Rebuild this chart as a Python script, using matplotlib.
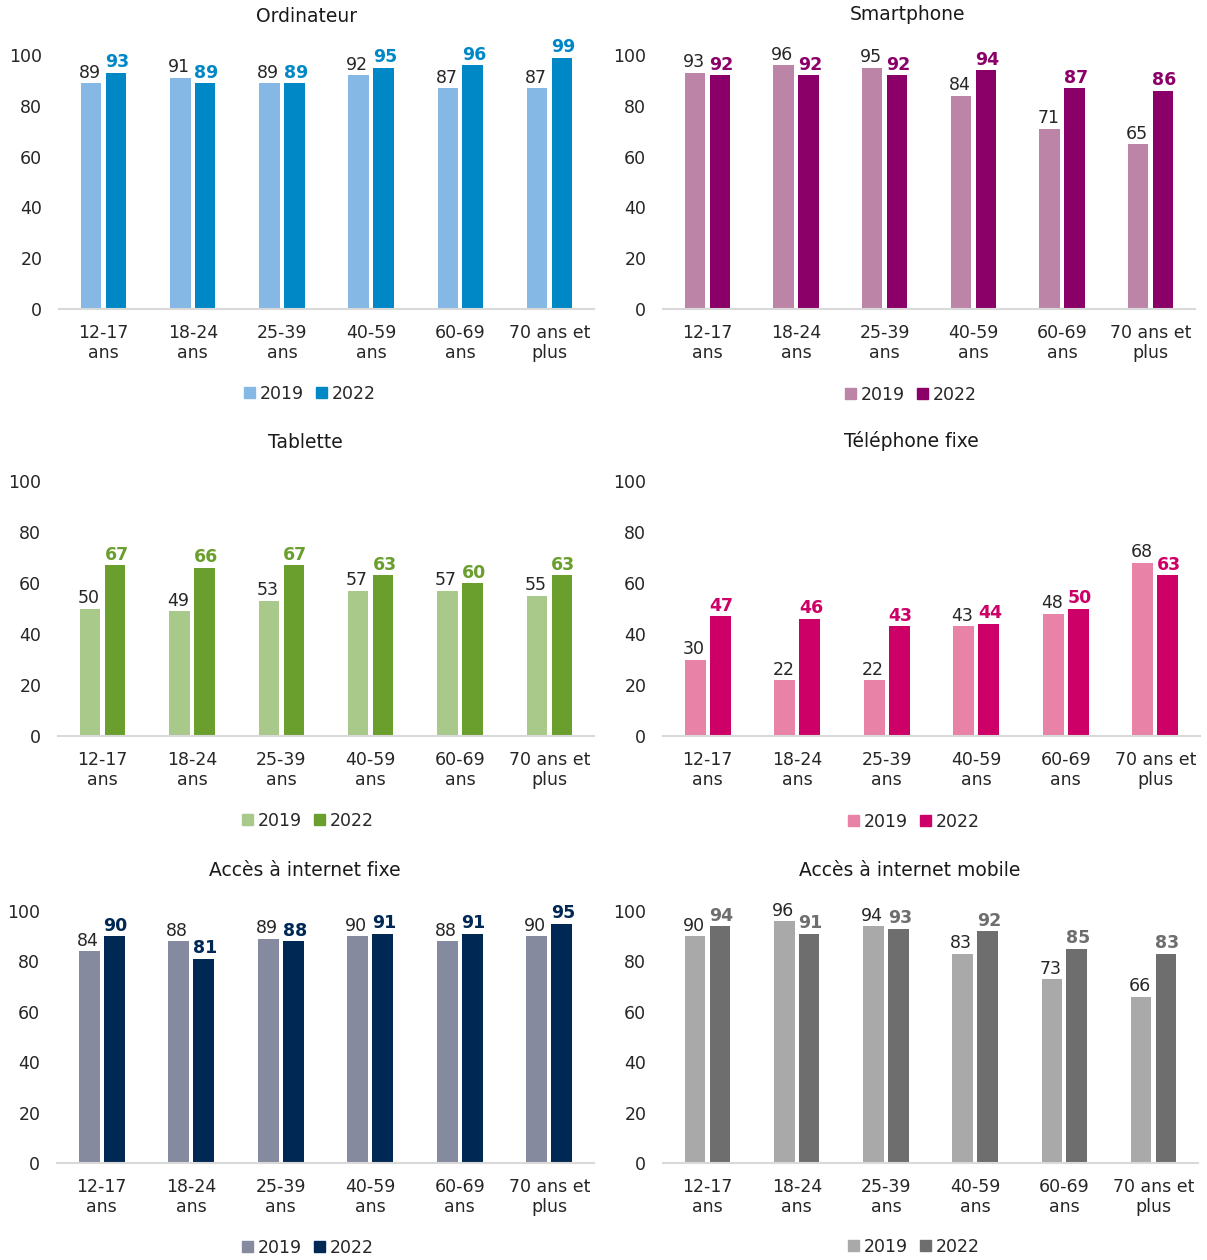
import matplotlib
matplotlib.use("Agg")
from matplotlib import pyplot as plt
from matplotlib.patches import Patch
import numpy as np

categories = ["12-17\nans", "18-24\nans", "25-39\nans", "40-59\nans", "60-69\nans", "70 ans et\nplus"]
years = ["2019", "2022"]

ordinateur_2019 = [89, 91, 89, 92, 87, 87]
ordinateur_2022 = [93, 89, 89, 95, 96, 99]
smartphone_2019 = [93, 96, 95, 84, 71, 65]
smartphone_2022 = [92, 92, 92, 94, 87, 86]
tablette_2019 = [50, 49, 53, 57, 57, 55]
tablette_2022 = [67, 66, 67, 63, 60, 63]
telfixe_2019 = [30, 22, 22, 43, 48, 68]
telfixe_2022 = [47, 46, 43, 44, 50, 63]
internet_fixe_2019 = [84, 88, 89, 90, 88, 90]
internet_fixe_2022 = [90, 81, 88, 91, 91, 95]
internet_mobile_2019 = [90, 96, 94, 83, 73, 66]
internet_mobile_2022 = [94, 91, 93, 92, 85, 83]

W, H = 1207, 1260
fig = plt.figure(figsize=(W / 100, H / 100), dpi=100)
plt.rcParams['font.family'] = ['DejaVu Sans']
FS = 12.5
TXT = "#262626"

# (title, v2019, v2022, col2019, col2022, axes px box x0,x1,ybase,ytop, title pos, legend pos)
panels = [
    ("Ordinateur", ordinateur_2019, ordinateur_2022, "#85B8E5", "#0088C6",
     (59, 594, 309, 55), (307, 16), (310, 394)),
    ("Smartphone", smartphone_2019, smartphone_2022, "#BC85A8", "#8B0068",
     (663, 1195, 309, 55), (908, 15), (911, 395)),
    ("Tablette", tablette_2019, tablette_2022, "#A9C98A", "#6A9E2D",
     (58, 594, 736, 481), (305, 442), (308, 821)),
    ("Téléphone fixe", telfixe_2019, telfixe_2022, "#E882A6", "#CC0066",
     (663, 1200, 736, 481), (911, 441), (914, 822)),
    ("Accès à internet fixe", internet_fixe_2019, internet_fixe_2022, "#868A9E", "#002855",
     (57, 594, 1163, 911), (305, 871), (308, 1248)),
    ("Accès à internet mobile", internet_mobile_2019, internet_mobile_2022, "#A9A9A9", "#6E6E6E",
     (663, 1198, 1163, 911), (910, 871), (914, 1247)),
]

x = np.arange(len(categories))
bw = 0.23
off = 0.14

for title, v1, v2, c1, c2, box, tpos, lpos in panels:
    x0, x1, yb, yt = box
    ax = fig.add_axes([x0 / W, 1 - yb / H, (x1 - x0) / W, (yb - yt) / H])
    ax.bar(x - off, v1, bw, color=c1)
    ax.bar(x + off, v2, bw, color=c2)
    for xi, a, b in zip(x, v1, v2):
        ax.annotate(str(a), (xi - off, a), xytext=(-1, 1), textcoords="offset points",
                    ha="center", va="bottom", fontsize=FS, color=TXT, annotation_clip=False)
        ax.annotate(str(b), (xi + off, b), xytext=(1, 1), textcoords="offset points",
                    ha="center", va="bottom", fontsize=FS, color=c2, fontweight="bold",
                    annotation_clip=False)
    ax.set_xlim(-0.5, len(categories) - 0.5)
    ax.set_ylim(0, 100)
    ax.set_yticks(range(0, 101, 20))
    ax.set_xticks(x)
    ax.set_xticklabels(categories, fontsize=FS, color=TXT, linespacing=1.15)
    ax.tick_params(axis="both", length=0, labelsize=FS, colors=TXT)
    ax.tick_params(axis="x", pad=11)
    ax.tick_params(axis="y", pad=12)
    for s in ["top", "right", "left"]:
        ax.spines[s].set_visible(False)
    ax.spines["bottom"].set_color("#D9D9D9")
    ax.spines["bottom"].set_linewidth(1.5)
    fig.text(tpos[0] / W, 1 - tpos[1] / H, title, ha="center", va="center",
             fontsize=13.5, color="#1a1a1a")
    handles = [Patch(color=c1, label=years[0]), Patch(color=c2, label=years[1])]
    ax.legend(handles=handles, loc="center", bbox_to_anchor=(lpos[0] / W, 1 - lpos[1] / H),
              bbox_transform=fig.transFigure, ncol=2, frameon=False, fontsize=FS,
              handlelength=0.6, handleheight=0.6, handletextpad=0.3, columnspacing=0.7,
              labelcolor=TXT)

fig.savefig("out.png", dpi=100, facecolor="white")
